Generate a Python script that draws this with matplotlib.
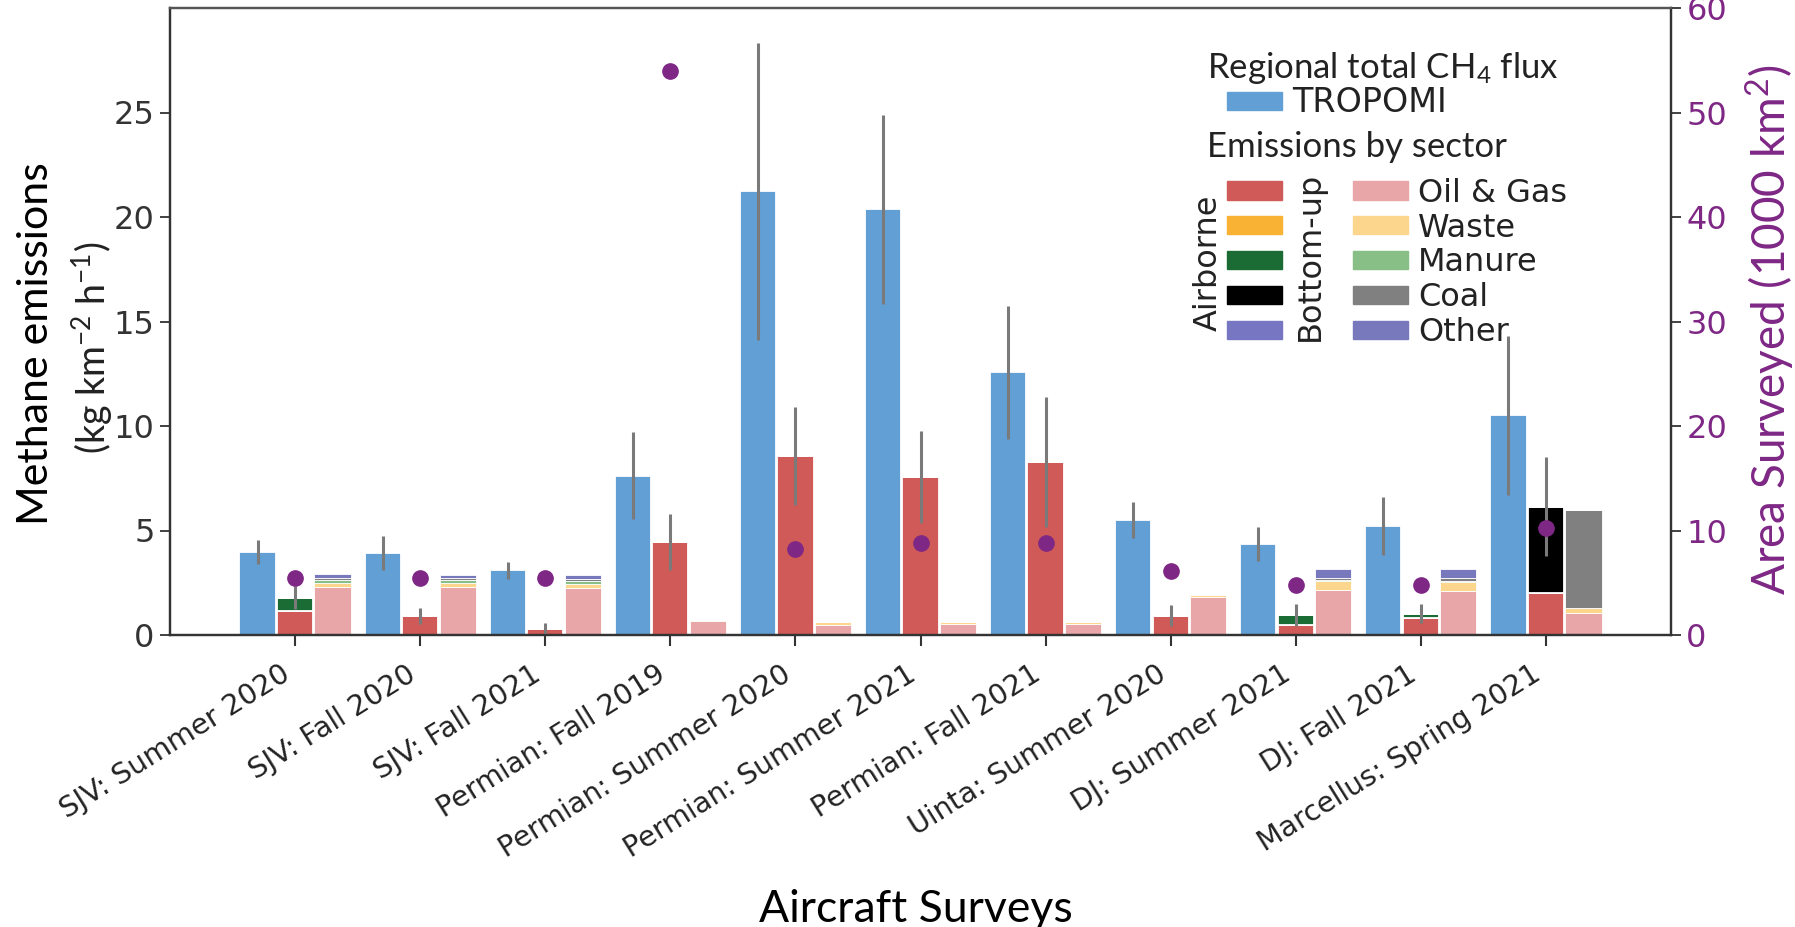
import numpy as np
import matplotlib
matplotlib.use("Agg")
import matplotlib.pyplot as plt
from matplotlib.patches import Patch

# ---------------- data ----------------
surveys = ["SJV: Summer 2020", "SJV: Fall 2020", "SJV: Fall 2021",
           "Permian: Fall 2019", "Permian: Summer 2020", "Permian: Summer 2021",
           "Permian: Fall 2021", "Uinta: Summer 2020", "DJ: Summer 2021",
           "DJ: Fall 2021", "Marcellus: Spring 2021"]

# regional total flux from TROPOMI (kg km-2 h-1)
tropomi = [3.97, 3.92, 3.09, 7.62, 21.23, 20.36, 12.56, 5.48, 4.36, 5.20, 10.52]
tropomi_err = [0.58, 0.80, 0.42, 2.08, 7.10, 4.50, 3.18, 0.86, 0.83, 1.38, 3.80]

# airborne estimate by sector
air_oil_gas = [1.15, 0.91, 0.30, 4.45, 8.58, 7.56, 8.29, 0.93, 0.50, 0.82, 2.00]
air_waste = [0, 0, 0, 0, 0, 0, 0, 0, 0, 0, 0]
air_manure = [0.63, 0, 0, 0, 0, 0, 0, 0, 0.46, 0.20, 0]
air_coal = [0, 0, 0, 0, 0, 0, 0, 0, 0, 0, 4.13]
air_other = [0, 0, 0, 0, 0, 0, 0, 0, 0, 0, 0]
air_err = [0.55, 0.40, 0.27, 1.35, 2.35, 2.20, 3.10, 0.50, 0.53, 0.45, 2.37]

# bottom-up inventory by sector
bu_oil_gas = [2.30, 2.28, 2.25, 0.65, 0.50, 0.55, 0.55, 1.82, 2.13, 2.10, 1.07]
bu_waste = [0.20, 0.20, 0.20, 0.08, 0.10, 0.08, 0.08, 0.08, 0.43, 0.43, 0.24]
bu_manure = [0.15, 0.15, 0.15, 0, 0, 0, 0, 0, 0.07, 0.07, 0]
bu_coal = [0.10, 0.10, 0.10, 0, 0, 0, 0, 0, 0.12, 0.12, 4.65]
bu_other = [0.15, 0.15, 0.15, 0, 0, 0, 0, 0, 0.40, 0.43, 0]

# area surveyed (1000 km2)
area_surveyed = [5.44, 5.44, 5.44, 54.0, 8.26, 8.77, 8.77, 6.08, 4.74, 4.80, 10.2]

sector_names = ["Oil & Gas", "Waste", "Manure", "Coal", "Other"]
air_colors = ["#cf5a57", "#f9b233", "#1b6b35", "#000000", "#7676c2"]
bu_colors = ["#e8a6a8", "#fcd68c", "#88bf87", "#808080", "#7878bd"]
blue = "#629fd5"
purple = "#7e2785"
err_grey = "#7a7a7a"
ink = "#222222"

plt.rcParams["font.family"] = ["DejaVu Sans"]
plt.rcParams["mathtext.fontset"] = "custom"
plt.rcParams["mathtext.rm"] = "Lato"
plt.rcParams["mathtext.it"] = "Lato:italic"

W, H = 1795, 927
fig = plt.figure(figsize=(W / 100, H / 100), dpi=100)


def px(x, y):
    # pixel position -> figure fraction
    return x / W, 1 - y / H


ax = fig.add_axes([170 / W, 1 - 635 / H, (1671 - 170) / W, (635 - 8) / H])
ax2 = ax.twinx()

x = np.arange(len(surveys))
bw = 0.29
off = 0.30
edge = dict(edgecolor="white", linewidth=1.3)

ax.bar(x - off, tropomi, bw, color=blue, zorder=2, **edge)
ax.errorbar(x - off, tropomi, yerr=tropomi_err, fmt="none", ecolor=err_grey,
            elinewidth=2.2, capsize=0, zorder=3)

air = [air_oil_gas, air_waste, air_manure, air_coal, air_other]
bottom = np.zeros(len(x))
for vals, c in zip(air, air_colors):
    v = np.array(vals, dtype=float)
    ax.bar(x, v, bw, bottom=bottom, color=c, zorder=2, **edge)
    bottom += v
air_total = bottom.copy()
ax.errorbar(x, air_total, yerr=air_err, fmt="none", ecolor=err_grey,
            elinewidth=2.2, capsize=0, zorder=3)

bu = [bu_oil_gas, bu_waste, bu_manure, bu_coal, bu_other]
bottom = np.zeros(len(x))
for vals, c in zip(bu, bu_colors):
    v = np.array(vals, dtype=float)
    ax.bar(x + off, v, bw, bottom=bottom, color=c, zorder=2,
           edgecolor="white", linewidth=0.6)
    bottom += v

ax2.plot(x, area_surveyed, "o", color=purple, ms=11, zorder=4)

# axes styling
ax.set_xlim(-1.0, 11.0)
ax.set_ylim(0, 30)
ax.set_yticks([0, 5, 10, 15, 20, 25])
ax2.set_ylim(0, 60)
ax2.set_yticks([0, 10, 20, 30, 40, 50, 60])
ax.set_xticks(x)
ax.set_xticklabels(surveys, rotation=32, ha="right", fontsize=20.5, color=ink)
ax.tick_params(axis="x", length=8, width=1.5, color="#333333", pad=10)
ax.tick_params(axis="y", labelsize=23, length=7, width=1.3, color="#333333",
               labelcolor="#333333", pad=4)
ax2.tick_params(axis="y", labelsize=23, length=7, width=1.3, color="#333333",
                labelcolor=purple, pad=4)
for a in (ax, ax2):
    for s in a.spines.values():
        s.set_color("#333333")
        s.set_linewidth(1.6)
    a.spines["top"].set_color("#555555")

# axis titles
fig.text(*px(36, 344), "Methane emissions", rotation=90, ha="center",
         va="center", fontsize=31, color="black", family="Lato")
fig.text(*px(92, 348), "(kg km$^{-2}$ h$^{-1}$)", rotation=90, ha="center",
         va="center", fontsize=27, color=ink, family="Lato")
fig.text(*px(1770, 330), "Area Surveyed (1000 km$^{2}$)", rotation=90,
         ha="center", va="center", fontsize=33, color=purple, family="Lato")
fig.text(*px(916, 910), "Aircraft Surveys", ha="center", va="center",
         fontsize=32, color="black", family="Lato")

# legend
fig.text(*px(1207, 78), "Regional total CH$_4$ flux", ha="left",
         va="baseline", fontsize=25, color=ink, family="Lato")
fig.text(*px(1207, 157), "Emissions by sector", ha="left", va="baseline",
         fontsize=25, color=ink, family="Lato")

leg_a = ax.legend(handles=[Patch(color=blue, label="TROPOMI")],
                  loc="center left", bbox_to_anchor=px(1227, 103),
                  bbox_transform=fig.transFigure, frameon=False, fontsize=24,
                  borderpad=0, borderaxespad=0, handlelength=1.65,
                  handleheight=0.45, handletextpad=0.3, labelcolor=ink)
ax.add_artist(leg_a)

handles = [Patch(color=c, label="") for c in air_colors]
handles += [Patch(color=c, label=n) for c, n in zip(bu_colors, sector_names)]
leg_b = ax.legend(handles=handles, ncol=2, loc="center left",
                  bbox_to_anchor=px(1227, 263), bbox_transform=fig.transFigure,
                  frameon=False, fontsize=23, borderpad=0, borderaxespad=0,
                  handlelength=1.72, handleheight=0.5, handletextpad=0.31,
                  columnspacing=1.92, labelspacing=0.12, labelcolor=ink)
leg_b.set_zorder(6)

fig.text(*px(1208, 263), "Airborne", rotation=90, ha="center", va="center",
         fontsize=23, color=ink)
fig.text(*px(1310, 256), "Bottom-up", rotation=90, ha="center", va="center",
         fontsize=23, color=ink)

fig.savefig("out.png", dpi=100)
